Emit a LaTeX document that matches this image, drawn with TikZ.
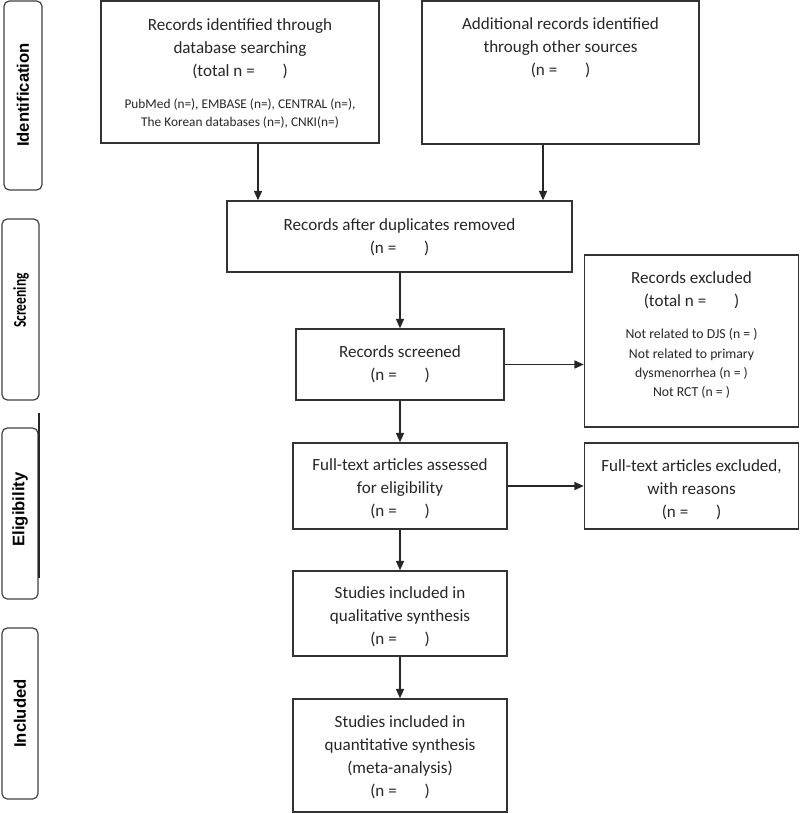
\documentclass[tikz,border=0pt]{standalone}
\usepackage{fontspec}
\setmainfont{Carlito}
\newfontfamily\arialfont{Liberation Sans}
\usetikzlibrary{arrows.meta}
\begin{document}
\begin{tikzpicture}[x=0.75pt,y=-0.75pt,
  box/.style={draw=black!80, line width=1.1pt, inner sep=0pt},
  side/.style={draw=black!75, line width=0.9pt, rounded corners=4pt, inner sep=0pt},
  txt/.style={align=center, text=black!85, inner sep=0pt, font=\fontsize{12.8}{17.3}\selectfont},
  small/.style={align=center, text=black!85, inner sep=0pt, font=\fontsize{10}{13.5}\selectfont},
  detail/.style={align=center, text=black!85, inner sep=0pt, font=\fontsize{10.3}{14.3}\selectfont},
  lab/.style={rotate=90, text=black, inner sep=0pt, font=\arialfont\bfseries\fontsize{12.5}{14}\selectfont},
  labc/.style={rotate=90, text=black, inner sep=0pt, font=\bfseries\fontsize{13.5}{15}\selectfont},
  arr/.style={draw=black!85, line width=1.1pt, -{Triangle[length=7pt,width=6pt]}}
]
\useasboundingbox (0,0) rectangle (800,814);

% side labels
\node[side, minimum width=28.5pt, minimum height=141.75pt] (sid) at (23,95.5) {};
\node[side, minimum width=27.75pt, minimum height=135.75pt] (sscr) at (20.5,309.5) {};
\node[side, minimum width=27pt, minimum height=128.25pt] (selig) at (20,513.5) {};
\node[side, minimum width=27pt, minimum height=128.25pt] (sinc) at (20,713.5) {};
\draw[black!85, line width=1.3pt] (selig.north east) ++(0.5,-14) -- ++(0,165);
\node[lab] (lid) at (23,95) {Identification};
\node[labc] (lscr) at (21,300.5) {\scalebox{0.75}[1]{Screening}};
\node[lab] (lelig) at (20,509.5) {Eligibility};
\node[lab] (linc) at (20,713.5) {Included};

% boxes
\node[box, minimum width=208.5pt, minimum height=106.5pt] (idb) at (240,72) {};
\node[box, minimum width=207.75pt, minimum height=107.25pt] (addb) at (560.5,72.5) {};
\node[box, minimum width=258.75pt, minimum height=53.25pt] (dup) at (399.5,236.5) {};
\node[box, minimum width=156pt, minimum height=53.25pt] (scr) at (400,364.5) {};
\node[box, minimum width=160.5pt, minimum height=129pt] (exc) at (691.5,341) {};
\node[box, minimum width=160.5pt, minimum height=64.5pt] (fte) at (691.5,486) {};
\node[box, minimum width=160.5pt, minimum height=64.5pt] (fta) at (400,486) {};
\node[box, minimum width=160.5pt, minimum height=63.75pt] (qual) at (400,613.5) {};
\node[box, minimum width=160.5pt, minimum height=84.75pt] (quant) at (400,755.5) {};

% texts
\node[txt] (tid) at (240,48.5) {Records identified through\\database searching\\(total n = \hspace{1.4em})};
\node[small] (tids) at (240,114) {PubMed (n=), EMBASE (n=), CENTRAL (n=),\\The Korean databases (n=), CNKI(n=)};
\node[txt] (tadd) at (560.5,48) {Additional records identified\\through other sources\\(n = \hspace{1.4em})};
\node[txt] (tdup) at (399.5,237.5) {Records after duplicates removed\\(n = \hspace{1.4em})};
\node[txt] (tscr) at (400,364) {Records screened\\(n = \hspace{1.4em})};
\node[txt] (texc) at (691.5,290) {Records excluded\\(total n = \hspace{1.4em})};
\node[detail] (texcd) at (691.5,363.5) {Not related to DJS (n = )\\Not related to primary\\dysmenorrhea (n = )\\Not RCT (n = )};
\node[txt] (tfte) at (691.5,490) {Full-text articles excluded,\\with reasons\\(n = \hspace{1.4em})};
\node[txt] (tfta) at (400,489) {Full-text articles assessed\\for eligibility\\(n = \hspace{1.4em})};
\node[txt] (tqual) at (400,617) {Studies included in\\qualitative synthesis\\(n = \hspace{1.4em})};
\node[txt] (tquant) at (400,757.5) {Studies included in\\quantitative synthesis\\(meta-analysis)\\(n = \hspace{1.4em})};

% connectors
\coordinate (a1) at (258,0);
\coordinate (a2) at (543,0);
\draw[arr] (idb.south -| a1) -- (dup.north -| a1);
\draw[arr] (addb.south -| a2) -- (dup.north -| a2);
\draw[arr] (dup.south -| scr.north) -- (scr.north);
\draw[arr] (scr.east) -- (scr.east -| exc.west);
\draw[arr] (scr.south) -- (fta.north);
\draw[arr] (fta.east) -- (fte.west);
\draw[arr] (fta.south) -- (qual.north);
\draw[arr] (qual.south) -- (quant.north);
\end{tikzpicture}
\end{document}
